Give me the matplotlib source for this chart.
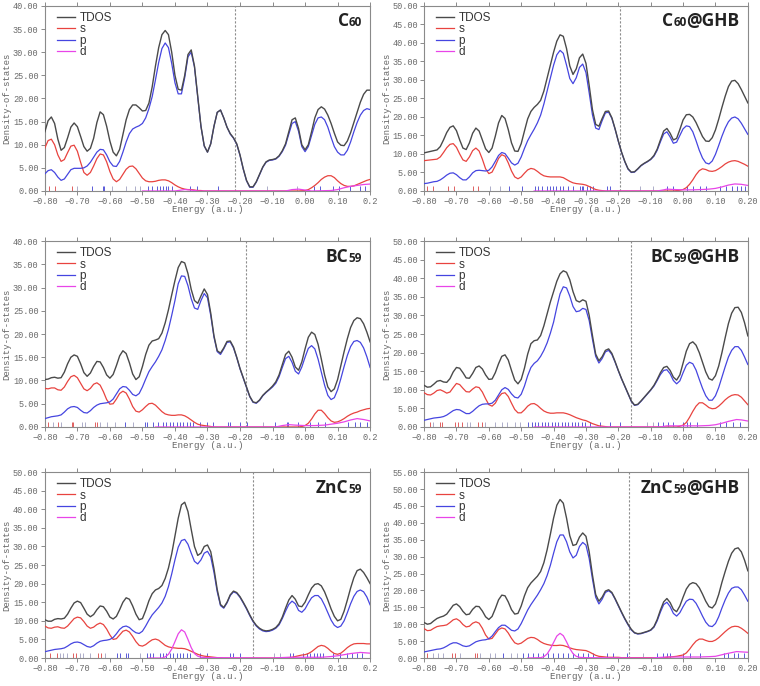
import numpy as np
import matplotlib
matplotlib.use("Agg")
import matplotlib.pyplot as plt

# energy grid of the sampled curves (a.u.)
energy = np.round(np.linspace(-0.80, 0.20, 101), 2)
xticks = [-0.80, -0.70, -0.60, -0.50, -0.40, -0.30, -0.20, -0.10, 0.00, 0.10, 0.20]

# ---------------- C60 ----------------
c60_tdos = [12.8, 15.2, 16.0, 14.6, 11.2, 8.8, 9.4, 11.5, 13.8, 14.7,
            13.9, 11.8, 9.6, 8.6, 9.2, 11.4, 14.8, 17.1, 16.5, 14.0,
            10.8, 8.4, 7.6, 9.0, 12.2, 15.4, 17.6, 18.6, 18.6, 18.0,
            17.3, 17.4, 19.0, 22.5, 27.0, 31.0, 33.8, 34.7, 33.8, 30.0,
            25.0, 22.0, 21.8, 25.0, 29.5, 30.5, 27.0, 20.5, 14.0, 9.8,
            8.4, 10.2, 14.0, 17.0, 17.5, 15.8, 13.8, 12.4, 11.5, 10.2,
            7.8, 4.8, 2.3, 0.9, 0.9, 2.0, 3.6, 5.2, 6.3, 6.7,
            6.8, 7.0, 7.6, 8.7, 10.2, 12.8, 15.4, 15.8, 13.5, 10.0,
            8.9, 10.0, 12.8, 15.8, 17.6, 18.2, 17.7, 16.4, 14.6, 12.5,
            10.6, 9.9, 9.8, 10.8, 12.6, 14.8, 17.0, 19.2, 20.9, 21.8,
            21.8]
c60_p = [3.7, 4.4, 4.6, 4.0, 3.0, 2.3, 2.6, 3.6, 4.6, 4.9,
         4.9, 4.9, 5.0, 5.4, 6.2, 7.3, 8.4, 9.0, 8.9, 7.8,
         6.3, 5.4, 5.3, 6.4, 8.4, 10.6, 12.4, 13.4, 13.8, 14.1,
         14.6, 15.8, 17.8, 20.4, 24.0, 27.8, 30.8, 32.0, 31.0, 27.6,
         23.4, 21.0, 21.0, 24.5, 29.0, 30.0, 26.8, 20.3, 13.9, 9.7,
         8.4, 10.2, 14.0, 17.0, 17.5, 15.8, 13.8, 12.3, 11.4, 10.1,
         7.7, 4.7, 2.2, 0.8, 0.8, 1.9, 3.5, 5.1, 6.2, 6.6,
         6.7, 6.9, 7.5, 8.5, 9.9, 12.3, 14.6, 15.0, 12.9, 9.6,
         8.5, 9.6, 12.0, 14.4, 15.8, 16.0, 15.4, 13.8, 11.6, 9.6,
         8.4, 7.8, 7.8, 8.8, 10.6, 12.8, 14.8, 16.4, 17.4, 17.8,
         17.6]
c60_s = [9.3, 10.9, 11.2, 10.0, 7.8, 6.4, 6.8, 8.3, 9.7, 9.9,
         8.6, 6.2, 4.0, 3.4, 4.0, 5.4, 7.0, 8.0, 7.8, 6.3,
         4.2, 2.6, 2.0, 2.5, 3.6, 4.7, 5.3, 5.4, 4.8, 3.8,
         2.8, 2.2, 2.0, 2.0, 2.1, 2.3, 2.4, 2.4, 2.2, 1.8,
         1.3, 0.9, 0.6, 0.4, 0.3, 0.3, 0.2, 0.1, 0.1, 0.0,
         0.0, 0.0, 0.0, 0.0, 0.0, 0.0, 0.0, 0.0, 0.0, 0.0,
         0.0, 0.0, 0.0, 0.0, 0.0, 0.0, 0.0, 0.0, 0.0, 0.0,
         0.0, 0.0, 0.0, 0.0, 0.0, 0.0, 0.0, 0.0, 0.0, 0.05,
         0.1, 0.3, 0.7, 1.2, 1.8, 2.5, 3.0, 3.3, 3.3, 2.9,
         2.2, 1.6, 1.2, 1.0, 1.0, 1.1, 1.4, 1.7, 2.0, 2.3,
         2.5]
c60_d_e = [-0.50, -0.40, -0.38, -0.37, -0.35, -0.33, -0.06, -0.04, -0.02, 0.00,
           0.02, 0.08, 0.10, 0.12, 0.14, 0.16, 0.18, 0.20]
c60_d = [0.0, 0.0, 0.2, 0.3, 0.2, 0.0, 0.0, 0.3, 0.4, 0.2,
         0.0, 0.1, 0.3, 0.7, 1.0, 1.2, 1.4, 1.5]
c60_homo = -0.215
c60_rug_s = [-0.787, -0.769, -0.716]
c60_rug_o = [-0.70, -0.595, -0.549, -0.523, -0.508, -0.118, -0.026]
c60_rug_p = [-0.656, -0.621, -0.617, -0.482, -0.472, -0.456, -0.446, -0.436, -0.426,
             -0.42, -0.41, -0.354, -0.333, -0.267, 0.026, 0.046, 0.087, 0.103,
             0.138, 0.169, 0.185]

# ---------------- C60@GHB ----------------
c60g_tdos = [10.3, 10.5, 10.7, 10.9, 11.1, 12.0, 13.8, 15.8, 17.2, 17.6,
             16.3, 13.8, 11.6, 11.2, 13.0, 15.6, 17.0, 16.2, 13.8, 11.4,
             10.4, 11.6, 14.8, 18.4, 20.4, 19.6, 16.6, 13.0, 10.8, 10.7,
             12.8, 16.2, 19.5, 21.5, 22.6, 23.4, 24.5, 27.0, 30.5, 34.0,
             37.5, 40.5, 42.2, 41.8, 38.5, 33.8, 31.5, 33.0, 36.0, 37.0,
             34.5, 28.5, 22.0, 18.0, 17.5, 19.6, 21.5, 21.6, 19.8, 16.8,
             13.5, 10.5, 8.0, 6.0, 5.1, 5.2, 6.0, 6.9, 7.5, 8.0,
             8.6, 9.6, 11.3, 13.8, 16.2, 16.9, 15.6, 13.8, 14.2, 16.6,
             19.2, 20.6, 20.7, 20.0, 18.5, 16.6, 14.7, 13.5, 13.4, 14.4,
             16.5, 19.4, 22.6, 25.6, 28.2, 29.7, 29.9, 29.0, 27.4, 25.6,
             23.8]
c60g_p = [2.0, 2.1, 2.3, 2.5, 2.6, 3.0, 3.6, 4.3, 4.8, 4.9,
          4.4, 3.6, 3.0, 3.0, 3.8, 4.9, 5.5, 5.6, 5.5, 5.4,
          5.6, 6.5, 8.0, 9.6, 10.4, 10.1, 8.9, 7.6, 7.0, 7.5,
          9.2, 11.5, 13.6, 15.2, 16.7, 18.4, 20.5, 23.5, 27.0, 30.5,
          34.0, 36.8, 38.0, 37.2, 34.0, 30.4, 29.0, 30.6, 33.4, 34.3,
          32.0, 26.5, 20.6, 17.0, 16.6, 19.0, 21.1, 21.3, 19.6, 16.7,
          13.4, 10.4, 7.9, 5.9, 5.0, 5.1, 5.9, 6.8, 7.4, 7.9,
          8.5, 9.4, 11.0, 13.3, 15.4, 16.0, 14.6, 12.9, 13.2, 15.0,
          16.8, 17.6, 17.4, 16.0, 13.6, 11.0, 8.9, 7.6, 7.3, 8.1,
          9.9, 12.3, 14.8, 17.0, 18.7, 19.7, 20.0, 19.5, 18.3, 16.8,
          15.3]
c60g_s = [8.2, 8.3, 8.4, 8.5, 8.6, 9.2, 10.4, 11.7, 12.6, 12.8,
          11.8, 10.0, 8.4, 8.0, 9.2, 10.9, 11.6, 10.8, 8.6, 6.0,
          4.7, 5.1, 6.8, 8.8, 9.8, 9.4, 7.6, 5.4, 3.8, 3.3,
          3.8, 4.8, 5.7, 6.1, 5.9, 5.3, 4.6, 4.1, 3.9, 3.8,
          3.8, 3.8, 3.8, 3.6, 3.1, 2.6, 2.2, 2.0, 1.9, 1.8,
          1.6, 1.2, 0.8, 0.4, 0.2, 0.1, 0.0, 0.0, 0.0, 0.0,
          0.0, 0.0, 0.0, 0.0, 0.0, 0.0, 0.0, 0.0, 0.0, 0.0,
          0.0, 0.0, 0.0, 0.0, 0.0, 0.0, 0.0, 0.0, 0.1, 0.2,
          0.4, 0.9, 1.8, 3.0, 4.4, 5.5, 6.0, 5.8, 5.4, 5.3,
          5.5, 6.0, 6.6, 7.3, 7.8, 8.1, 8.2, 8.0, 7.6, 7.2,
          6.7]
c60g_d_e = [-0.46, -0.08, -0.06, -0.05, -0.03, 0.00, 0.03, 0.06, 0.08, 0.10,
            0.12, 0.14, 0.16, 0.18, 0.20]
c60g_d = [0.0, 0.0, 0.3, 0.5, 0.4, 0.3, 0.3, 0.4, 0.5, 0.7,
          1.1, 1.6, 1.9, 1.8, 1.5]
c60g_homo = -0.195
c60g_rug_s = [-0.792, -0.771, -0.725, -0.709, -0.648, -0.632]
c60g_rug_o = [-0.596, -0.565, -0.133, -0.092]
c60g_rug_p = [-0.537, -0.499, -0.457, -0.447, -0.437, -0.421, -0.411, -0.401, -0.391,
              -0.380, -0.370, -0.355, -0.339, -0.319, -0.313, -0.308, -0.298, -0.288,
              -0.277, -0.236, -0.226, -0.051, -0.030, 0.011, 0.031, 0.052, 0.072,
              0.114, 0.134, 0.150, 0.165, 0.180, 0.191]

# ---------------- BC59 ----------------
bc59_tdos = [10.2, 10.3, 10.6, 10.7, 10.5, 10.6, 11.8, 13.6, 15.0, 15.5,
             15.2, 13.6, 11.7, 10.9, 11.6, 13.0, 14.1, 14.0, 12.8, 11.2,
             10.5, 11.3, 13.2, 15.3, 16.4, 15.8, 13.8, 11.4, 10.2, 10.8,
             13.0, 15.6, 17.6, 18.5, 18.7, 19.0, 20.2, 22.4, 25.2, 28.4,
             31.5, 34.3, 35.6, 35.3, 33.0, 29.6, 27.2, 26.6, 28.2, 29.7,
             28.5, 24.5, 19.6, 16.4, 15.9, 17.0, 18.4, 18.5, 17.2, 15.0,
             12.6, 10.6, 8.6, 6.6, 5.4, 5.2, 5.8, 6.8, 7.5, 8.1,
             8.8, 9.7, 11.2, 13.4, 15.6, 16.3, 15.0, 12.9, 12.2, 14.0,
             16.8, 19.3, 20.4, 19.9, 17.8, 14.6, 11.2, 8.6, 7.6, 8.2,
             10.2, 13.2, 16.2, 19.0, 21.4, 22.9, 23.5, 23.3, 22.2, 20.4,
             18.3]
bc59_p = [1.8, 2.0, 2.2, 2.3, 2.4, 2.6, 3.2, 3.9, 4.3, 4.4,
          4.2, 3.6, 3.1, 3.0, 3.5, 4.2, 4.7, 5.0, 5.1, 5.2,
          5.4, 6.0, 7.1, 8.2, 8.7, 8.6, 7.9, 7.0, 6.7, 7.2,
          8.6, 10.3, 11.9, 13.0, 14.0, 15.2, 16.6, 18.6, 21.0, 24.0,
          27.2, 30.8, 32.5, 32.4, 30.4, 27.6, 25.6, 25.3, 27.2, 28.7,
          27.8, 24.0, 19.3, 16.2, 15.6, 16.8, 18.2, 18.3, 17.0, 14.9,
          12.5, 10.5, 8.5, 6.5, 5.3, 5.1, 5.7, 6.7, 7.4, 8.0,
          8.6, 9.4, 10.8, 12.8, 14.7, 15.2, 13.9, 12.0, 11.4, 12.9,
          15.0, 16.9, 17.5, 16.8, 14.6, 11.8, 9.0, 6.8, 5.9, 6.3,
          8.0, 10.4, 13.0, 15.4, 17.3, 18.4, 18.6, 18.2, 17.0, 15.1,
          12.8]
bc59_s = [8.3, 8.2, 8.4, 8.4, 8.0, 7.9, 8.6, 9.8, 10.8, 11.1,
          10.6, 9.4, 8.2, 7.8, 8.3, 9.2, 9.5, 9.0, 7.6, 5.9,
          4.9, 5.0, 6.0, 7.2, 7.7, 7.3, 6.0, 4.4, 3.4, 3.2,
          3.7, 4.4, 5.0, 5.1, 4.7, 4.0, 3.3, 2.8, 2.6, 2.5,
          2.5, 2.6, 2.6, 2.4, 2.0, 1.5, 1.0, 0.6, 0.4, 0.3,
          0.2, 0.1, 0.0, 0.0, 0.0, 0.0, 0.0, 0.0, 0.0, 0.0,
          0.0, 0.0, 0.0, 0.0, 0.0, 0.0, 0.0, 0.0, 0.0, 0.0,
          0.0, 0.0, 0.0, 0.0, 0.0, 0.0, 0.0, 0.0, 0.0, 0.1,
          0.3, 0.8, 1.7, 2.8, 3.6, 3.6, 2.9, 2.0, 1.3, 1.0,
          1.1, 1.4, 1.8, 2.3, 2.7, 3.0, 3.2, 3.5, 3.7, 3.9,
          4.0]
bc59_d_e = [-0.46, -0.09, -0.07, -0.05, -0.03, 0.00, 0.03, 0.06, 0.08, 0.10,
            0.12, 0.14, 0.16, 0.18, 0.20]
bc59_d = [0.0, 0.0, 0.3, 0.5, 0.4, 0.3, 0.3, 0.4, 0.6, 0.8,
          1.1, 1.5, 1.8, 1.6, 1.3]
bc59_homo = -0.182
bc59_rug_s = [-0.79, -0.759, -0.718, -0.713, -0.646, -0.641]
bc59_rug_o = [-0.774, -0.749, -0.687, -0.677, -0.631, -0.610, -0.585, -0.528, -0.128]
bc59_rug_p = [-0.554, -0.492, -0.487, -0.467, -0.451, -0.436, -0.426, -0.415, -0.405,
              -0.395, -0.385, -0.374, -0.364, -0.354, -0.344, -0.323, -0.303, -0.282,
              -0.236, -0.231, -0.2, -0.179, -0.092, -0.056, -0.051, -0.021, 0.015,
              0.041, 0.062, 0.133, 0.154, 0.169, 0.190]

# ---------------- BC59@GHB ----------------
bc59g_tdos = [11.2, 10.7, 10.8, 11.5, 12.3, 12.5, 12.1, 12.0, 13.0, 14.8,
              16.0, 15.8, 14.6, 13.2, 13.1, 14.4, 16.0, 16.4, 15.6, 14.0,
              12.8, 12.9, 14.6, 17.0, 19.0, 19.4, 18.0, 15.2, 12.6, 11.6,
              12.8, 15.8, 19.6, 22.4, 23.2, 23.4, 24.6, 27.2, 30.4, 33.6,
              36.4, 39.2, 41.2, 42.0, 41.6, 39.6, 36.4, 34.0, 33.6, 34.2,
              33.8, 30.0, 24.6, 19.6, 17.8, 18.9, 20.6, 21.0, 19.8, 17.6,
              15.2, 13.0, 11.0, 9.0, 7.0, 5.9, 6.1, 7.0, 8.0, 9.0,
              10.0, 11.2, 12.8, 14.6, 16.0, 16.3, 15.2, 13.4, 12.6, 14.0,
              17.2, 20.4, 22.4, 22.9, 22.0, 20.0, 17.4, 14.8, 13.0, 12.6,
              13.8, 16.4, 20.0, 24.0, 27.8, 30.6, 32.1, 32.2, 30.8, 28.0,
              24.5]
bc59g_p = [1.8, 2.0, 2.2, 2.4, 2.5, 2.6, 2.8, 3.2, 3.8, 4.4,
           4.7, 4.6, 4.1, 3.6, 3.6, 4.2, 5.0, 5.7, 6.1, 6.2,
           6.2, 6.4, 7.2, 8.6, 10.0, 10.6, 10.1, 8.9, 8.0, 7.8,
           8.8, 11.0, 13.8, 16.0, 17.1, 17.8, 19.0, 20.6, 22.6, 25.2,
           28.2, 32.2, 35.8, 37.7, 37.4, 35.2, 32.4, 31.0, 31.2, 31.9,
           31.6, 28.6, 23.6, 19.0, 17.2, 18.4, 20.2, 20.6, 19.5, 17.4,
           15.1, 12.9, 10.9, 8.9, 6.9, 5.8, 6.0, 6.9, 7.9, 8.9,
           9.9, 11.0, 12.5, 14.1, 15.2, 15.4, 14.3, 12.5, 11.6, 12.4,
           14.6, 16.6, 17.4, 17.0, 15.3, 12.8, 10.4, 8.4, 7.2, 7.2,
           8.4, 10.6, 13.4, 16.2, 18.8, 20.6, 21.6, 21.6, 20.6, 18.8,
           16.8]
bc59g_s = [9.2, 8.7, 8.6, 9.1, 9.8, 10.0, 9.6, 9.1, 9.4, 10.6,
           11.7, 11.4, 10.4, 9.5, 9.4, 10.2, 10.8, 10.6, 9.4, 7.6,
           6.0, 5.6, 6.4, 8.0, 9.0, 9.2, 8.2, 6.4, 4.7, 3.8,
           3.8, 4.6, 5.6, 6.2, 6.3, 5.8, 5.0, 4.3, 3.9, 3.7,
           3.7, 3.8, 3.8, 3.8, 3.6, 3.3, 2.9, 2.5, 2.2, 1.9,
           1.7, 1.3, 0.9, 0.6, 0.3, 0.2, 0.1, 0.0, 0.0, 0.0,
           0.0, 0.0, 0.0, 0.0, 0.0, 0.0, 0.0, 0.0, 0.0, 0.0,
           0.0, 0.0, 0.0, 0.0, 0.0, 0.0, 0.0, 0.0, 0.0, 0.2,
           0.5, 1.2, 2.6, 4.2, 5.6, 6.5, 6.5, 5.9, 5.2, 4.9,
           5.0, 5.6, 6.4, 7.3, 8.0, 8.5, 8.7, 8.6, 8.0, 7.0,
           6.0]
bc59g_d_e = [-0.46, -0.07, -0.05, -0.03, 0.00, 0.05, 0.08, 0.10, 0.12, 0.14,
             0.165, 0.18, 0.20]
bc59g_d = [0.0, 0.0, 0.3, 0.3, 0.3, 0.3, 0.4, 0.6, 1.0, 1.5,
           2.0, 1.9, 1.6]
bc59g_homo = -0.162
bc59g_rug_s = [-0.781, -0.751, -0.745, -0.704, -0.694, -0.684, -0.632, -0.622]
bc59g_rug_o = [-0.771, -0.668, -0.658, -0.612, -0.581, -0.560, -0.545, -0.519, -0.504,
               -0.113, -0.092]
bc59g_rug_p = [-0.478, -0.468, -0.457, -0.447, -0.437, -0.427, -0.416, -0.406, -0.396,
               -0.385, -0.375, -0.365, -0.355, -0.344, -0.334, -0.324, -0.313, -0.303,
               -0.288, -0.257, -0.226, -0.195, -0.077, -0.061, -0.046, -0.030, 0.0,
               0.011, 0.021, 0.042, 0.114, 0.134, 0.155, 0.175]

# ---------------- ZnC59 ----------------
znc59_tdos = [10.3, 9.9, 9.9, 10.4, 10.6, 10.5, 10.7, 11.8, 13.4, 14.8,
              15.3, 14.9, 13.4, 11.8, 11.1, 11.7, 13.0, 14.0, 13.8, 12.6,
              11.0, 10.5, 11.2, 13.0, 15.0, 16.2, 15.8, 14.0, 11.8, 10.3,
              10.6, 12.8, 15.4, 17.3, 18.3, 18.7, 19.5, 21.4, 24.2, 28.0,
              32.8, 37.6, 41.2, 41.9, 39.4, 34.6, 30.0, 27.6, 28.2, 30.0,
              30.4, 28.6, 24.0, 18.4, 14.4, 13.6, 15.0, 17.0, 18.0, 17.6,
              16.5, 15.0, 13.4, 11.6, 10.0, 8.8, 8.0, 7.5, 7.3, 7.4,
              7.7, 8.2, 9.2, 11.0, 13.4, 15.6, 16.8, 15.8, 14.0, 13.8,
              15.0, 17.0, 18.8, 19.8, 20.0, 19.4, 17.8, 15.6, 13.2, 11.2,
              10.0, 10.4, 12.6, 15.6, 18.8, 21.6, 23.5, 23.9, 23.0, 21.6,
              20.0]
znc59_p = [1.7, 1.9, 2.1, 2.3, 2.4, 2.5, 2.7, 3.2, 3.8, 4.2,
           4.3, 4.1, 3.6, 3.1, 2.9, 3.3, 4.0, 4.5, 4.7, 4.8,
           5.0, 5.5, 6.5, 7.7, 8.4, 8.6, 8.2, 7.4, 6.8, 6.6,
           7.2, 8.6, 10.2, 11.6, 12.6, 13.6, 14.8, 16.6, 19.2, 22.6,
           26.4, 29.8, 31.6, 31.9, 30.6, 28.2, 26.0, 25.3, 26.4, 28.2,
           28.7, 27.2, 23.0, 17.8, 14.1, 13.4, 14.8, 16.8, 17.8, 17.4,
           16.3, 14.8, 13.2, 11.4, 9.8, 8.6, 7.8, 7.3, 7.1, 7.2,
           7.5, 8.0, 8.9, 10.6, 12.6, 14.4, 15.3, 14.6, 12.8, 12.3,
           13.2, 14.8, 16.2, 16.8, 16.8, 15.9, 14.2, 12.2, 10.2, 8.8,
           8.2, 8.6, 10.0, 12.2, 14.6, 16.6, 17.9, 18.3, 17.8, 16.4,
           14.3]
znc59_s = [8.6, 8.1, 8.0, 8.3, 8.4, 8.1, 8.0, 8.6, 9.6, 10.6,
           11.0, 10.8, 9.8, 8.6, 8.0, 8.3, 9.0, 9.4, 9.0, 7.8,
           6.2, 5.0, 5.2, 6.2, 7.2, 7.5, 7.0, 5.8, 4.4, 3.4,
           3.2, 3.6, 4.3, 4.9, 5.1, 4.8, 4.1, 3.4, 3.0, 2.8,
           2.7, 2.6, 2.6, 2.5, 2.2, 1.8, 1.4, 1.0, 0.7, 0.5,
           0.4, 0.3, 0.2, 0.1, 0.1, 0.0, 0.0, 0.0, 0.0, 0.0,
           0.0, 0.0, 0.0, 0.0, 0.0, 0.0, 0.0, 0.0, 0.0, 0.0,
           0.0, 0.0, 0.0, 0.0, 0.1, 0.1, 0.2, 0.4, 0.6, 0.8,
           0.9, 1.2, 1.7, 2.4, 3.1, 3.4, 3.2, 2.6, 1.8, 1.2,
           1.0, 1.3, 2.0, 2.8, 3.4, 3.8, 3.9, 3.9, 3.9, 3.8,
           3.8]
znc59_d_e = [-0.48, -0.44, -0.43, -0.42, -0.41, -0.40, -0.39, -0.38, -0.37, -0.36,
             -0.35, -0.34, -0.33, -0.32, -0.30, -0.10, -0.05, 0.00, 0.05, 0.08,
             0.10, 0.12, 0.14, 0.17, 0.20]
znc59_d = [0.0, 0.0, 0.3, 1.0, 2.4, 4.4, 6.5, 7.6, 7.0, 5.0,
           2.8, 1.2, 0.5, 0.2, 0.1, 0.0, 0.2, 0.2, 0.2, 0.4,
           0.6, 0.9, 1.2, 1.5, 1.3]
znc59_homo = -0.161
znc59_rug_s = [-0.785, -0.764, -0.713, -0.703, -0.636, -0.626]
znc59_rug_o = [-0.754, -0.744, -0.733, -0.692, -0.682, -0.662, -0.615, -0.508, -0.097,
               -0.077]
znc59_rug_p = [-0.579, -0.569, -0.549, -0.544, -0.487, -0.477, -0.467, -0.446, -0.436,
               -0.426, -0.415, -0.405, -0.395, -0.385, -0.374, -0.364, -0.354, -0.323,
               -0.303, -0.231, -0.221, -0.2, -0.046, -0.036, -0.005, 0.005, 0.015,
               0.026, 0.036, 0.046, 0.056, 0.087, 0.108, 0.128, 0.144, 0.159, 0.174]

# ---------------- ZnC59@GHB ----------------
znc59g_tdos = [10.5, 10.0, 10.2, 11.0, 11.7, 12.1, 12.4, 13.0, 14.3, 15.6,
               16.0, 15.2, 13.8, 12.8, 13.0, 14.4, 15.3, 15.2, 13.9, 12.2,
               11.4, 12.3, 14.6, 17.2, 18.6, 18.4, 16.6, 14.3, 13.0, 13.2,
               15.4, 18.4, 20.8, 22.2, 23.2, 24.2, 25.6, 28.2, 32.0, 36.6,
               41.4, 45.2, 46.9, 45.8, 41.4, 36.2, 33.3, 33.6, 35.8, 37.0,
               36.0, 31.4, 24.6, 18.8, 16.8, 18.0, 19.8, 20.2, 19.4, 17.6,
               15.6, 13.6, 11.7, 10.0, 8.5, 7.5, 7.2, 7.3, 7.6, 7.9,
               8.3, 9.3, 11.4, 14.2, 16.6, 17.6, 16.4, 14.4, 13.7, 15.4,
               18.0, 20.4, 21.8, 22.3, 22.0, 20.8, 18.9, 16.8, 15.2, 14.8,
               16.0, 18.8, 22.4, 25.6, 28.6, 31.0, 32.3, 32.6, 31.4, 28.9,
               25.8]
znc59g_p = [1.8, 2.0, 2.2, 2.4, 2.6, 2.7, 3.0, 3.5, 4.1, 4.5,
            4.5, 4.1, 3.6, 3.4, 3.6, 4.2, 4.8, 5.1, 5.3, 5.4,
            5.7, 6.5, 7.8, 9.0, 9.7, 9.7, 9.0, 8.2, 8.0, 8.6,
            10.2, 12.2, 14.2, 15.8, 17.2, 18.6, 20.2, 22.0, 24.4, 27.4,
            31.0, 34.4, 36.4, 36.4, 34.4, 31.4, 29.6, 30.4, 33.0, 34.2,
            33.4, 29.4, 23.4, 18.0, 16.0, 17.4, 19.4, 19.9, 19.2, 17.4,
            15.4, 13.4, 11.5, 9.8, 8.3, 7.4, 7.1, 7.2, 7.5, 7.8,
            8.2, 9.1, 11.0, 13.6, 15.8, 16.5, 15.2, 13.2, 12.4, 13.4,
            15.2, 16.8, 17.4, 17.3, 16.2, 14.4, 12.4, 10.6, 9.5, 9.3,
            10.2, 12.2, 14.8, 17.2, 19.2, 20.6, 21.0, 21.0, 20.2, 18.6,
            16.8]
znc59g_s = [8.7, 8.1, 8.2, 8.8, 9.3, 9.5, 9.6, 9.8, 10.5, 11.3,
            11.6, 11.0, 9.9, 9.2, 9.4, 10.3, 10.7, 10.3, 8.8, 6.8,
            5.6, 5.8, 7.1, 8.4, 8.9, 8.6, 7.4, 5.8, 4.5, 4.1,
            4.4, 5.1, 5.8, 6.1, 6.0, 5.5, 4.8, 4.3, 4.0, 3.8,
            3.7, 3.7, 3.8, 3.7, 3.4, 3.0, 2.7, 2.5, 2.4, 2.3,
            2.2, 1.8, 1.3, 0.8, 0.5, 0.4, 0.3, 0.2, 0.2, 0.2,
            0.2, 0.1, 0.1, 0.1, 0.1, 0.1, 0.1, 0.1, 0.1, 0.1,
            0.1, 0.1, 0.1, 0.1, 0.1, 0.2, 0.3, 0.4, 0.5, 0.7,
            0.9, 1.5, 2.6, 3.9, 5.0, 5.6, 5.6, 5.2, 4.9, 4.9,
            5.3, 6.0, 6.9, 7.8, 8.6, 9.2, 9.4, 9.3, 8.8, 8.1,
            7.3]
znc59g_d_e = [-0.48, -0.44, -0.43, -0.42, -0.41, -0.40, -0.39, -0.38, -0.37, -0.36,
              -0.35, -0.34, -0.33, -0.32, -0.30, -0.10, -0.05, 0.00, 0.05, 0.08,
              0.10, 0.13, 0.165, 0.20]
znc59g_d = [0.0, 0.1, 0.4, 1.2, 2.7, 4.6, 6.5, 7.3, 6.6, 4.8,
            2.8, 1.3, 0.5, 0.2, 0.1, 0.0, 0.3, 0.3, 0.3, 0.4,
            0.5, 1.2, 1.9, 1.7]
znc59g_homo = -0.166
znc59g_rug_s = [-0.79, -0.715, -0.705, -0.643, -0.638]
znc59g_rug_o = [-0.772, -0.757, -0.741, -0.69, -0.628, -0.597, -0.581, -0.530, -0.514,
                -0.123]
znc59g_rug_p = [-0.556, -0.494, -0.478, -0.463, -0.447, -0.432, -0.416, -0.401, -0.386,
                -0.370, -0.355, -0.339, -0.324, -0.308, -0.293, -0.277, -0.236, -0.215,
                -0.174, -0.081, -0.061, -0.05, -0.04, 0.001, 0.022, 0.053, 0.125,
                0.140, 0.156, 0.171, 0.187]

plt.rcParams['font.family'] = ['Liberation Mono', 'DejaVu Sans Mono']
plt.rcParams['axes.unicode_minus'] = True

c_tdos = '#4a4a4a'
c_s = '#e8433f'
c_p = '#4545e0'
c_d = '#e845e8'
c_axis = '#8a8a8a'

panels = [
    (("C", 12.5), ("60", 8.5)),
    (("C", 12.5), ("60", 8.5), ("@GHB", 12.5)),
    (("BC", 12.5), ("59", 8.5)),
    (("BC", 12.5), ("59", 8.5), ("@GHB", 12.5)),
    (("ZnC", 12.5), ("59", 8.5)),
    (("ZnC", 12.5), ("59", 8.5), ("@GHB", 12.5)),
]
curves = [
    (c60_tdos, c60_s, c60_p, c60_d_e, c60_d, c60_homo, c60_rug_s, c60_rug_p, c60_rug_o, 40),
    (c60g_tdos, c60g_s, c60g_p, c60g_d_e, c60g_d, c60g_homo, c60g_rug_s, c60g_rug_p, c60g_rug_o, 50),
    (bc59_tdos, bc59_s, bc59_p, bc59_d_e, bc59_d, bc59_homo, bc59_rug_s, bc59_rug_p, bc59_rug_o, 40),
    (bc59g_tdos, bc59g_s, bc59g_p, bc59g_d_e, bc59g_d, bc59g_homo, bc59g_rug_s, bc59g_rug_p, bc59g_rug_o, 50),
    (znc59_tdos, znc59_s, znc59_p, znc59_d_e, znc59_d, znc59_homo, znc59_rug_s, znc59_rug_p, znc59_rug_o, 50),
    (znc59g_tdos, znc59g_s, znc59g_p, znc59g_d_e, znc59g_d, znc59g_homo, znc59g_rug_s, znc59g_rug_p, znc59g_rug_o, 55),
]

fig = plt.figure(figsize=(7.6, 6.86), dpi=100)
lefts = [0.059, 0.558]
widths = [0.428, 0.426]
bottoms = [0.7216, 0.3776, 0.0408]
heights = [0.2697, 0.271, 0.271]

renderer = fig.canvas.get_renderer()

for i, (parts, data) in enumerate(zip(panels, curves)):
    tdos, s, p, d_e, d, homo, rug_s, rug_p, rug_o, ymax = data
    col, row = i % 2, i // 2
    ax = fig.add_axes([lefts[col], bottoms[row], widths[col], heights[row]])

    ax.plot(energy, tdos, color=c_tdos, lw=1.0, label='TDOS', zorder=4)
    ax.plot(energy, s, color=c_s, lw=0.9, label='s', zorder=3)
    ax.plot(energy, p, color=c_p, lw=0.9, label='p', zorder=3)
    ax.plot(d_e, d, color=c_d, lw=0.9, label='d', zorder=3)

    # level ticks along the bottom
    xt = ax.get_xaxis_transform()
    ax.vlines(rug_o, 0, 0.028, transform=xt, color='#a0a0c0', lw=0.6, zorder=2)
    ax.vlines(rug_s, 0, 0.028, transform=xt, color='#e06060', lw=0.7, zorder=2)
    ax.vlines(rug_p, 0, 0.028, transform=xt, color='#5a5ad8', lw=0.7, zorder=2)

    ax.axvline(homo, color='#8c8c8c', lw=0.8, ls=(0, (2.0, 1.6)), zorder=1)

    ax.set_xlim(-0.80, 0.20)
    ax.set_ylim(0, ymax)
    ax.set_xticks(xticks)
    labels = ['%.2f' % v for v in xticks]
    if col == 0:
        labels[-1] = '0.2'
    labels = [l.replace('-', '\u2212') for l in labels]
    ax.set_xticklabels(labels)
    ax.set_yticks(np.arange(0, ymax + 0.1, 5))
    ax.set_yticklabels(['%.2f' % v for v in np.arange(0, ymax + 0.1, 5)])

    for sp in ax.spines.values():
        sp.set_color(c_axis)
        sp.set_linewidth(0.8)
    ax.tick_params(axis='both', which='major', direction='out', length=3, width=0.7,
                   color=c_axis, labelcolor='#6a6a6a', labelsize=6.2, pad=1.5)
    ax.tick_params(axis='x', top=True)

    ax.set_xlabel('Energy (a.u.)', fontsize=6.6, color='#666666')
    ax.set_ylabel('Density-of-states', fontsize=6.4, color='#666666')
    ax.xaxis.set_label_coords(0.5, -0.075)
    ax.yaxis.set_label_coords(-0.102, 0.5)

    leg = ax.legend(loc='upper left', bbox_to_anchor=(0.03, 0.98), frameon=False,
                    prop={'family': 'Liberation Sans', 'size': 8.5},
                    handlelength=1.5, handletextpad=0.4, labelspacing=-0.05,
                    borderaxespad=0.0, borderpad=0.2)
    for t in leg.get_texts():
        t.set_color('#333333')

    # compound label, right aligned, small digits on the baseline
    texts = [ax.text(0, 0.89, txt, transform=ax.transAxes, fontsize=fs, fontweight='bold',
                     family=['Open Sans', 'DejaVu Sans'], color='#222222',
                     ha='left', va='baseline', zorder=5) for txt, fs in parts]
    wids = [t.get_window_extent(renderer).width / ax.bbox.width for t in texts]
    x = 0.975 - sum(wids)
    for t, w in zip(texts, wids):
        t.set_x(x)
        x += w

fig.savefig('out.png', dpi=100)
